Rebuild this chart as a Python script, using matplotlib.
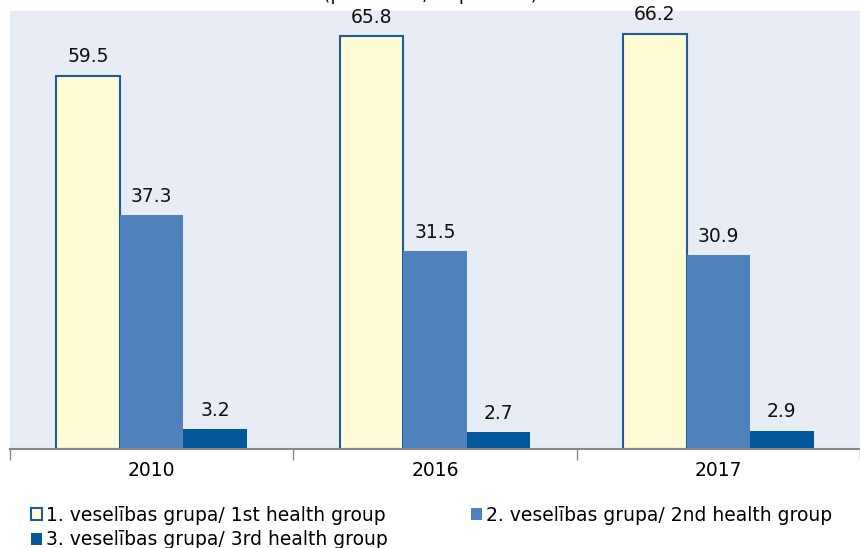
import matplotlib
matplotlib.use("Agg")
import matplotlib.pyplot as plt
import numpy as np
from matplotlib.patches import Patch

years = ["2010", "2016", "2017"]
group1 = [59.5, 65.8, 66.2]
group2 = [37.3, 31.5, 30.9]
group3 = [3.2, 2.7, 2.9]
labels = ["1. veselības grupa/ 1st health group",
          "2. veselības grupa/ 2nd health group",
          "3. veselības grupa/ 3rd health group"]

plt.rcParams['font.family'] = ['DejaVu Sans']
FS = 13.5
fig = plt.figure(figsize=(8.6, 5.48), dpi=100)
ax = fig.add_axes([10/860, 1-449/548, 850/860, (449-11)/548])
ax.set_facecolor("#E8ECF4")

x = np.arange(len(years))
w = 0.224
series = [group1, group2, group3]
faces = ["#FFFCD5", "#4F81BD", "#03589C"]
edges = ["#1F5C99", "#4F81BD", "#03589C"]
for i, (vals, fc, ec) in enumerate(zip(series, faces, edges)):
    pos = x + (i - 1) * w
    ax.bar(pos, vals, width=w, color=fc, edgecolor=ec, linewidth=1.5 if i == 0 else 0)
    for p, v in zip(pos, vals):
        ax.text(p, v + 1.5, f"{v:.1f}", ha="center", va="bottom", fontsize=FS, color="#111111")

ax.set_xlim(-0.5, 2.5)
ax.set_ylim(0, 69.8)
ax.set_yticks([])
ax.set_xticks([-0.5, 0.5, 1.5, 2.5], minor=False)
ax.set_xticklabels([])
ax.tick_params(axis='x', length=8, color="#888888", width=1)
ax.set_xticks(x, minor=True)
ax.set_xticklabels(years, minor=True, fontsize=FS)
ax.tick_params(axis='x', which='minor', length=0, pad=9)
for s in ["top", "right", "left"]:
    ax.spines[s].set_visible(False)
ax.spines["bottom"].set_color("#888888")
ax.spines["bottom"].set_linewidth(1.5)

fig.text(0.5, 1.0 + 15/548, "(procentos/ in percent)", ha="center", va="top", fontsize=FS, color="#111111")

handles = [Patch(facecolor=faces[i], edgecolor=edges[i], linewidth=1.5 if i == 0 else 0) for i in range(3)]
fig.legend([handles[0], handles[2], handles[1]], [labels[0], labels[2], labels[1]],
           loc="upper left", bbox_to_anchor=(31/860, 1-506/548), ncol=2, frameon=False,
           fontsize=FS, handlelength=0.6, handleheight=0.6, handletextpad=0.2,
           columnspacing=4.45, labelspacing=0.28, borderpad=0, borderaxespad=0)

fig.savefig("out.png", dpi=100)
